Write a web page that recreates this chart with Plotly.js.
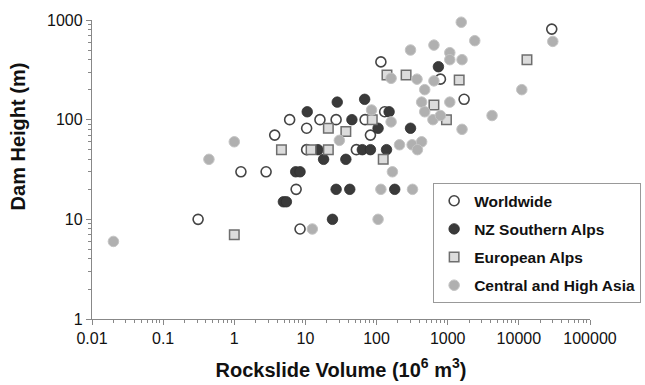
<!DOCTYPE html>
<html>
<head>
<meta charset="utf-8">
<script src="https://cdn.plot.ly/plotly-3.0.1.min.js"></script>
<style>html,body{margin:0;padding:0;background:#fff;}#chart{width:645px;height:385px;}</style>
</head>
<body>
<div id="chart"></div>
<script>
// Worldwide (open circles)
var worldX = [0.31, 1.24, 2.8, 3.7, 6, 7.4, 8.4, 10.4, 10.4, 16, 27, 52, 69, 82, 115, 130, 790, 1700, 29000];
var worldY = [10, 30, 30, 70, 100, 20, 8, 82, 50, 100, 100, 50, 100, 70, 380, 120, 255, 160, 810];

// NZ Southern Alps (dark filled circles)
var nzX = [28, 68, 10.6, 45, 150, 105, 300, 15, 63, 82, 138, 18, 37, 42, 27, 180, 7.3, 8.4, 4.9, 5.4, 24, 740];
var nzY = [150, 160, 120, 100, 120, 82, 82, 50, 50, 50, 50, 40, 40, 20, 20, 20, 30, 30, 15, 15, 10, 340];

// European Alps (squares)
var euX = [1, 140, 260, 640, 960, 87, 21, 37, 4.6, 12, 21, 124, 1450, 13000];
var euY = [7, 280, 280, 140, 100, 100, 82, 76, 50, 50, 50, 40, 250, 400];

// Central and High Asia (light grey circles)
var asiaX = [0.02, 0.44, 1, 300, 640, 160, 370, 640, 475, 430, 475, 620, 790, 1070, 85, 160, 30, 210, 316, 430, 375, 167, 115, 320, 105, 12.5, 1550, 1070, 1070, 1590, 1590, 2400, 30000, 11000, 4200];
var asiaY = [6, 40, 60, 500, 560, 260, 255, 245, 200, 150, 120, 100, 110, 150, 125, 95, 62, 56, 56, 60, 50, 30, 20, 20, 10, 8, 950, 470, 400, 400, 80, 620, 610, 200, 110];

var seriesNames = ["Worldwide", "NZ Southern Alps", "European Alps", "Central and High Asia"];

var xTickVals = [0.01, 0.1, 1, 10, 100, 1000, 10000, 100000];
var xTickText = ["0.01", "0.1", "1", "10", "100", "1000", "10000", "100000"];
var yTickVals = [1, 10, 100, 1000];
var yTickText = ["1", "10", "100", "1000"];

var xTitle = 'Rockslide Volume (10<sup>6</sup> m<sup>3</sup>)';
var yTitle = 'Dam Height (m)';

function minorTicks(lo, hi) {
  var out = [];
  for (var e = lo; e < hi; e++) {
    for (var d = 2; d <= 9; d++) out.push(d * Math.pow(10, e));
  }
  return out;
}

var mk = function(name, x, y, marker, g) {
  return {type: 'scatter', mode: 'markers', name: name, x: x, y: y, marker: marker,
          legendgroup: g, cliponaxis: false};
};

var traces = [
  mk(seriesNames[0], worldX, worldY, {symbol: 'circle', size: 10, color: '#ffffff', line: {color: '#444444', width: 1.6}}, 'a'),
  mk(seriesNames[1], nzX, nzY, {symbol: 'circle', size: 10.5, color: '#3a3a3a', line: {color: '#2e2e2e', width: 0.8}}, 'b'),
  mk(seriesNames[2], euX, euY, {symbol: 'square', size: 9.5, color: '#dcdcdc', line: {color: '#6e6e6e', width: 1.5}}, 'c'),
  mk(seriesNames[3], asiaX, asiaY, {symbol: 'circle', size: 10.5, color: '#b0b0b0', line: {color: '#c4c4c4', width: 1}}, 'd')
];

var fam = 'Liberation Sans, Arial, sans-serif';
var axisFont = {family: fam, size: 16, color: '#111'};

var layout = {
  width: 645, height: 385,
  margin: {l: 92, r: 55, t: 20, b: 66, autoexpand: false},
  paper_bgcolor: '#fff', plot_bgcolor: '#fff',
  showlegend: true,
  xaxis: {
    type: 'log', range: [-2, 5], automargin: false,
    tickmode: 'array', tickvals: xTickVals, ticktext: xTickText,
    ticks: 'outside', ticklen: 5, tickcolor: '#888', tickwidth: 1,
    minor: {tickmode: 'array', tickvals: minorTicks(-2, 5), ticks: 'outside', ticklen: 3, tickcolor: '#888', showgrid: false},
    showline: true, linecolor: '#888', linewidth: 1.2,
    showgrid: false, zeroline: false,
    tickfont: axisFont,
    title: {text: xTitle, font: {family: fam, size: 20, color: '#111', weight: 'bold'}, standoff: 16}
  },
  yaxis: {
    type: 'log', range: [0, 3], automargin: false,
    tickmode: 'array', tickvals: yTickVals, ticktext: yTickText,
    ticks: 'outside', ticklen: 5, tickcolor: '#888', tickwidth: 1,
    minor: {tickmode: 'array', tickvals: minorTicks(0, 3), ticks: 'outside', ticklen: 3, tickcolor: '#888', showgrid: false},
    showline: true, linecolor: '#888', linewidth: 1.2,
    showgrid: false, zeroline: false,
    tickfont: axisFont
  },
  annotations: [{
    text: yTitle, textangle: -90, showarrow: false,
    xref: 'paper', yref: 'paper', x: -0.149, y: 0.61, xanchor: 'center', yanchor: 'middle',
    font: {family: fam, size: 20, color: '#111', weight: 'bold'}
  }],
  legend: {
    x: 0.685, xanchor: 'left', y: 0.053, yanchor: 'bottom',
    bordercolor: '#999', borderwidth: 1, bgcolor: '#fff',
    font: {family: fam, size: 15.5, color: '#111', weight: 'bold'},
    traceorder: 'grouped', tracegroupgap: 5,
    itemwidth: 30
  }
};

Plotly.newPlot('chart', traces, layout, {displayModeBar: false, staticPlot: true});
</script>
</body>
</html>
